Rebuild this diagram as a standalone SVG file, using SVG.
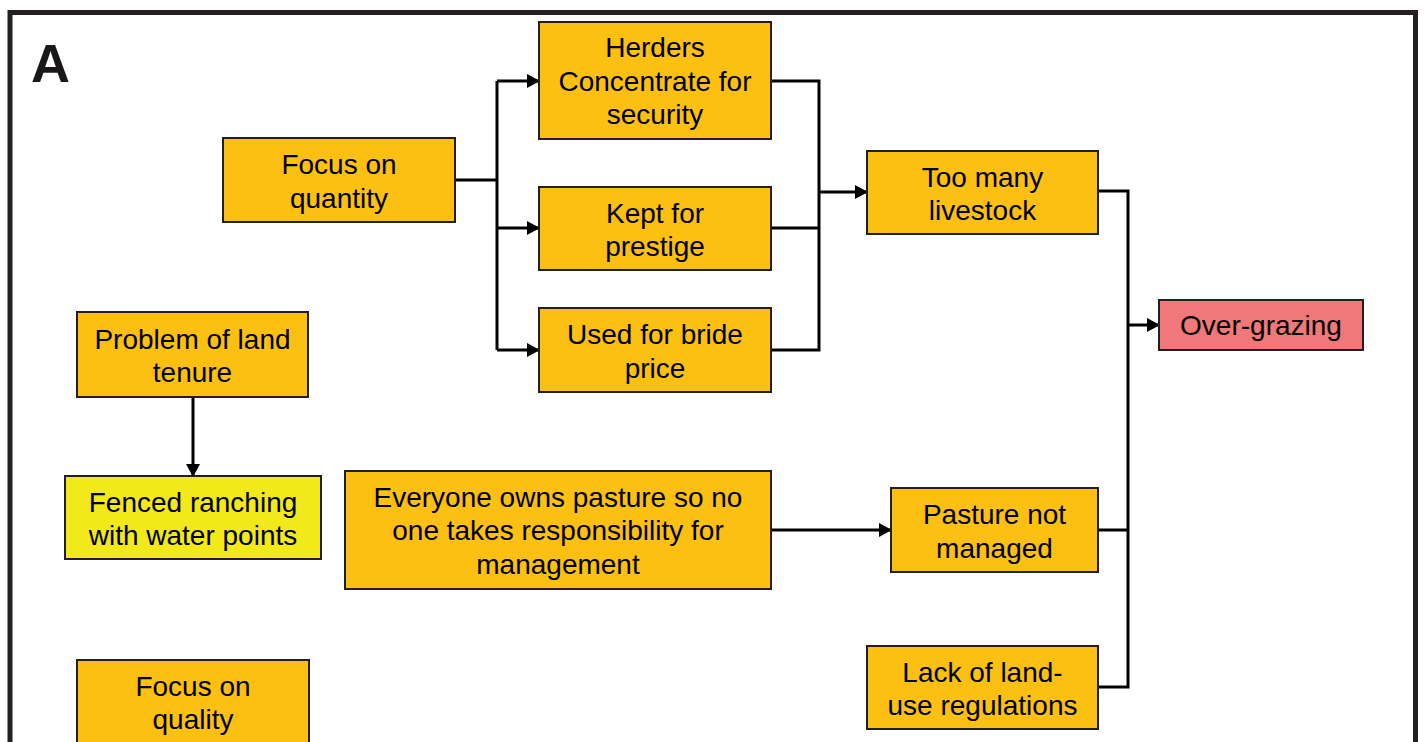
<svg xmlns="http://www.w3.org/2000/svg" width="1424" height="742" viewBox="0 0 1424 742">
<defs>
<marker id="ah" markerWidth="13" markerHeight="14" refX="12" refY="7" orient="auto" markerUnits="userSpaceOnUse">
<path d="M0,0 L13,7 L0,14 Z" fill="#000"/>
</marker>
<style>
.box{fill:#fbc012;stroke:#231f20;stroke-width:2}
.yel{fill:#f1e91a}
.red{fill:#f17878}
.t{font-family:"Liberation Sans",Arial,sans-serif;font-size:28px;fill:#000;text-anchor:middle}
.c{fill:none;stroke:#000;stroke-width:3}
.ca{fill:none;stroke:#000;stroke-width:3;marker-end:url(#ah)}
</style>
</defs>
<rect x="0" y="0" width="1424" height="742" fill="#fff"/>
<rect x="10" y="12.5" width="1405.5" height="800" fill="none" stroke="#231f20" stroke-width="5"/>
<text x="31" y="82" font-family="Liberation Sans,Arial,sans-serif" font-weight="bold" font-size="54" fill="#1a1718">A</text>

<g id="connectors">
<path class="c" d="M455,180 H497"/>
<path class="c" d="M497,81 V350"/>
<path class="ca" d="M497,81 H539"/>
<path class="ca" d="M497,228 H539"/>
<path class="ca" d="M497,350 H539"/>
<path class="c" d="M771,81 H819 V350 H771"/>
<path class="c" d="M771,228 H819"/>
<path class="ca" d="M819,192 H867"/>
<path class="c" d="M1098,191 H1128 V687 H1098"/>
<path class="c" d="M1098,530 H1128"/>
<path class="ca" d="M1128,325 H1159"/>
<path class="ca" d="M771,530 H891"/>
<path class="ca" d="M193,397 V476"/>
</g>

<g id="focus-quantity">
<rect class="box" x="223" y="138" width="232" height="84"/>
<text class="t" x="339" y="174">Focus on</text>
<text class="t" x="339" y="207.5">quantity</text>
</g>
<g id="herders">
<rect class="box" x="539" y="22" width="232" height="117"/>
<text class="t" x="655" y="57">Herders</text>
<text class="t" x="655" y="90.6">Concentrate for</text>
<text class="t" x="655" y="124.2">security</text>
</g>
<g id="prestige">
<rect class="box" x="539" y="187" width="232" height="83"/>
<text class="t" x="655" y="222.5">Kept for</text>
<text class="t" x="655" y="256">prestige</text>
</g>
<g id="bride">
<rect class="box" x="539" y="308" width="232" height="84"/>
<text class="t" x="655" y="344">Used for bride</text>
<text class="t" x="655" y="377.5">price</text>
</g>
<g id="too-many">
<rect class="box" x="867" y="151" width="231" height="83"/>
<text class="t" x="982.5" y="186.5">Too many</text>
<text class="t" x="982.5" y="220">livestock</text>
</g>
<g id="over-grazing">
<rect class="box red" x="1159" y="300" width="204" height="50"/>
<text class="t" x="1261" y="335">Over-grazing</text>
</g>
<g id="land-tenure">
<rect class="box" x="77" y="312" width="231" height="85"/>
<text class="t" x="192.5" y="348.5">Problem of land</text>
<text class="t" x="192.5" y="382">tenure</text>
</g>
<g id="fenced">
<rect class="box yel" x="65" y="476" width="256" height="83"/>
<text class="t" x="193" y="511.5">Fenced ranching</text>
<text class="t" x="193" y="545">with water points</text>
</g>
<g id="everyone">
<rect class="box" x="345" y="471" width="426" height="118"/>
<text class="t" x="558" y="506.5">Everyone owns pasture so no</text>
<text class="t" x="558" y="540.1">one takes responsibility for</text>
<text class="t" x="558" y="573.7">management</text>
</g>
<g id="pasture">
<rect class="box" x="891" y="488" width="207" height="84"/>
<text class="t" x="994.5" y="524">Pasture not</text>
<text class="t" x="994.5" y="557.5">managed</text>
</g>
<g id="lack">
<rect class="box" x="867" y="646" width="231" height="83"/>
<text class="t" x="982.5" y="681.5">Lack of land-</text>
<text class="t" x="982.5" y="715">use regulations</text>
</g>
<g id="focus-quality">
<rect class="box" x="77" y="660" width="232" height="84"/>
<text class="t" x="193" y="695.5">Focus on</text>
<text class="t" x="193" y="729">quality</text>
</g>
</svg>
